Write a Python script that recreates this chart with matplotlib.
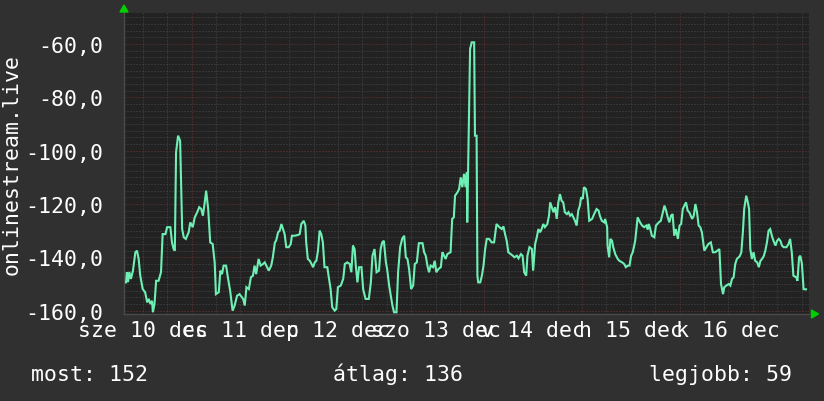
import matplotlib
matplotlib.use('Agg')
import matplotlib.pyplot as plt
from matplotlib.patches import Polygon
import numpy as np

# ---------------- data (hours since 10 dec 00:00, value) ----------------
hours = [7.9, 8.1, 8.4, 8.7, 9.1, 9.6, 10.2, 10.6, 11.0, 11.4, 12.0, 12.6, 13.1, 13.5, 13.9, 14.3, 14.5, 14.9,
         15.3, 15.9, 16.5, 16.9, 17.6, 18.0, 18.8, 19.2, 19.6, 19.9, 20.2, 20.7, 21.2, 21.7, 22.1, 22.6, 23.3,
         23.7, 24.3, 24.8, 25.4, 25.9, 26.4, 26.8, 27.2, 27.6, 28.1, 28.6, 29.2, 29.7, 30.0, 30.7, 31.1, 31.5,
         31.9, 32.5, 33.0, 33.5, 34.1, 34.6, 35.2, 35.8,
         36.1, 36.7, 37.1, 37.5, 38.1, 38.6, 39.1, 39.5, 39.9, 40.5, 41.0, 41.6, 42.0, 42.4, 43.0, 43.6, 44.0,
         44.5, 44.8, 45.3, 45.7, 46.1, 46.5, 46.9, 47.3, 47.9, 48.4, 48.7, 49.4, 50.2, 50.6, 51.0, 51.6, 52.0,
         52.2, 52.6, 53.1, 53.5, 53.9, 54.3, 54.7, 55.1, 55.5, 55.9, 56.3, 56.7, 57.4, 57.7, 58.2, 58.6, 59.2,
         59.6, 60.0, 60.7, 61.3, 61.7, 62.3, 62.9, 63.3, 63.7, 64.1,
         64.4, 64.8, 65.2, 65.8, 66.2, 66.8, 67.6, 68.1, 68.5, 69.0, 69.5, 70.1, 70.5, 70.9, 71.3, 71.8, 72.1,
         72.6, 73.0, 73.4, 73.8, 74.4, 74.8, 75.3, 75.8, 76.3, 76.7, 77.1, 77.5, 78.0, 78.5, 78.9, 79.4, 79.9,
         80.8, 81.2, 81.6, 82.0, 82.4, 82.8, 83.4, 83.8, 84.2, 84.7, 85.3, 85.7, 86.1, 86.5, 86.9, 87.7, 88.1,
         88.5, 88.8, 89.4, 89.8, 90.2, 90.6, 91.0, 91.4, 91.7, 91.8, 92.5, 92.9, 93.5, 93.7, 94.1, 94.3, 94.5,
         95.0, 95.4, 95.8, 96.2, 96.6, 97.2, 97.8, 98.4, 99.0, 99.7, 100.3, 100.7, 101.1, 101.5, 101.9, 102.5,
         103.0, 103.4, 104.0, 104.4, 105.0, 105.4, 105.8, 106.3, 106.6, 107.1, 107.7, 108.0, 108.5, 108.9,
         109.3, 109.7, 110.1, 110.5, 110.9, 111.5, 111.9, 112.2, 112.6, 113.0, 113.4, 113.8, 114.2, 114.6,
         115.0, 115.4, 115.8, 116.3, 116.7, 117.1, 117.5, 117.9, 118.3, 118.7, 119.1, 119.5, 119.8, 120.2,
         120.5, 121.0, 121.4, 121.8, 122.5, 123.0, 123.6, 124.1, 124.4, 124.9, 125.5, 125.7, 126.2, 126.3,
         126.7, 127.0, 127.4, 127.7, 128.2, 128.8, 129.2, 129.9, 130.4, 130.8, 131.3, 131.7, 132.1, 132.5,
         133.1, 133.5, 133.7, 134.3, 134.8, 135.3, 135.8, 136.2, 136.4, 136.7, 137.2, 137.8, 138.2, 138.9,
         139.4, 139.9, 140.3, 140.7, 141.1, 141.5, 141.9, 142.3, 142.7, 143.1, 143.6, 144.0, 144.4, 144.8,
         145.2, 145.6, 146.0, 146.4, 147.1, 147.5, 147.9, 148.3, 148.7, 149.1, 149.5, 150.1, 150.6, 151.1,
         151.7, 152.2, 152.8, 153.3, 153.8, 154.2, 154.7, 155.0, 155.5, 156.1, 156.5, 156.9, 157.3, 157.7,
         158.1, 158.8, 159.2, 159.6, 159.9, 160.4, 160.8, 161.1, 161.4, 161.8, 162.2, 162.6, 163.1, 163.5,
         163.9, 164.3, 164.7, 165.1, 165.5, 165.9, 166.3, 166.7, 167.1, 167.6, 168.0, 168.4, 168.8, 169.2,
         169.6, 170.3, 170.8, 171.2, 171.6, 172.0, 172.7, 173.0, 173.4, 173.7, 174.1, 174.5, 174.9, 175.1]

values = [-149.4, -145.6, -149.3, -145.5, -148.1, -145.0, -138.1, -137.5, -140.6, -146.9, -151.9, -153.1,
          -156.9, -155.6, -157.5, -156.3, -160.6, -157.5, -148.8, -148.8, -145.6, -131.3, -131.3, -128.7,
          -128.7, -134.4, -136.9, -137.5, -100.6, -94.4, -96.3, -129.4, -132.5, -133.1, -130.6, -126.9,
          -128.7, -125.0, -123.1, -121.2, -121.9, -124.4, -120.0, -115.0, -121.9, -134.4, -135.0, -141.9,
          -153.8, -153.1, -145.0, -146.3, -143.1, -143.1, -148.1, -152.5, -160.0, -158.1, -154.4, -153.8,
          -154.4, -155.6, -158.1, -151.2, -151.9, -147.5, -146.9, -143.1, -146.3, -140.6, -143.1, -142.5,
          -141.9, -143.1, -145.0, -143.1, -140.0, -134.4, -133.8, -130.6, -130.0, -127.5, -129.4, -131.3,
          -136.2, -136.2, -135.0, -131.9, -131.9, -131.6, -131.3, -127.5, -126.3, -128.1, -134.4, -140.6,
          -141.3, -142.5, -143.7, -141.9, -141.3, -137.5, -130.0, -131.3, -134.4, -143.7, -143.7, -146.9,
          -151.9, -158.7, -160.0, -159.4, -151.2, -150.6, -148.1, -142.5, -141.9, -142.5, -145.6, -135.6,
          -136.9,
          -143.1, -149.4, -143.7, -143.7, -151.9, -155.6, -155.6, -149.4, -139.4, -136.9, -145.6, -145.0,
          -136.9, -134.4, -133.8, -141.9, -144.4, -150.6, -154.4, -158.1, -160.6, -160.6, -145.6, -136.2,
          -133.1, -131.9, -140.0, -140.6, -144.4, -151.9, -150.6, -142.5, -141.9, -134.7, -134.7, -138.1,
          -139.4, -143.1, -145.6, -143.1, -143.7, -141.3, -145.6, -144.4, -143.7, -138.1, -139.4, -140.6,
          -138.8, -138.1, -125.6, -125.0, -116.9, -115.6, -114.4, -110.0, -113.7, -108.7, -113.7, -108.1,
          -126.9, -61.9, -59.4, -59.4, -94.4, -94.4, -146.9, -149.4, -149.4, -146.9, -143.1, -136.9,
          -133.1, -133.1, -134.4, -134.4, -127.5, -128.7, -129.4, -128.4, -131.3, -133.8, -138.1, -138.8,
          -139.4, -140.0, -139.4, -140.4, -138.8, -139.4, -145.6, -146.9, -139.4, -136.2, -136.9, -145.0,
          -135.0, -132.5, -129.4, -130.6, -129.4, -127.5, -128.7, -127.5, -124.4, -119.4, -121.2, -123.1,
          -121.2, -125.6, -119.4, -116.3, -118.8, -119.4, -123.1, -123.8, -123.1, -124.4, -123.8, -125.0,
          -126.3, -128.1, -122.5, -120.6, -117.5, -118.1, -113.7, -114.4, -118.1, -126.3, -125.6, -123.8,
          -121.9, -122.5, -124.4, -126.3, -126.9, -125.6, -128.7, -135.6, -140.0, -133.1, -133.8, -136.2,
          -138.8, -140.6, -141.3, -141.9, -142.5, -143.7, -143.1, -143.1, -139.4, -138.1, -133.8, -128.1,
          -125.0, -126.9, -128.1, -128.7, -128.1, -129.6, -127.5, -128.7, -131.9, -132.5, -128.1, -126.9,
          -126.3, -123.1, -120.6, -122.5, -125.0, -126.9, -124.4, -123.8, -131.9, -129.4, -133.1, -128.1,
          -127.5, -121.9, -120.6, -119.4, -122.5, -123.1, -125.6, -124.4, -120.0, -123.1, -128.1, -128.7,
          -130.6, -137.5, -136.2, -135.0, -134.4, -138.1, -138.1, -137.5, -136.9, -150.0, -153.8, -151.2,
          -150.6, -150.0, -150.6, -148.1, -147.5, -142.5, -140.6, -139.6, -138.1, -130.0, -121.9, -116.9,
          -119.4, -121.9, -136.9, -140.6, -138.1, -141.3, -141.9, -143.7, -141.3, -140.6, -139.6, -137.5,
          -134.4, -130.0, -129.4, -131.9, -133.8, -135.6, -133.8, -133.1, -133.8, -135.6, -136.2, -136.2,
          -135.0, -133.1, -138.1, -146.9, -147.5, -148.8, -140.0, -139.4, -142.5, -151.9, -152.0, -152.0]

y_ticks = [-160, -140, -120, -100, -80, -60]
label_hours = [12, 36, 60, 84, 108, 132, 156]
day_labels = ['sze 10 dec', 'cs 11 dec', 'p 12 dec', 'szo 13 dec', 'v 14 dec', 'h 15 dec', 'k 16 dec']
y_title = 'onlinestream.live'
stat_names = ['most', 'átlag', 'legjobb']
stat_values = [152, 136, 59]

# ---------------- style ----------------
BG = '#303030'
PLOT_BG = '#222222'
LINE = '#6ef0b4'
MINOR = '#484848'
MAJOR = '#6c3434'
AXIS = '#4a4a4a'
ARROW = '#00d000'
TXT = '#ffffff'
FONT = 'DejaVu Sans Mono'
FS = 15.5

W, H = 824, 402
fig = plt.figure(figsize=(W / 100, H / 100), dpi=100, facecolor=BG)
L, R, T, B = 124, 809.5, 14, 315
ax = fig.add_axes([L / W, 1 - B / H, (R - L) / W, (B - T) / H])
ax.set_facecolor(PLOT_BG)
x0, x1 = 7.4, 175.96
y0, y1 = -161.25, -48.4
ax.set_xlim(x0, x1)
ax.set_ylim(y0, y1)

dot = (0, (1, 2))
for hv in np.arange(-160, -45, 2.5):
    if hv % 20 != 0:
        ax.axhline(hv, color=MINOR, lw=0.72, ls=dot, zorder=1)
for hh in np.arange(12, 177, 6):
    if hh % 24 != 0:
        ax.axvline(hh, color=MINOR, lw=0.72, ls=dot, zorder=1)
for hv in y_ticks:
    ax.axhline(hv, color=MAJOR, lw=0.72, ls=dot, zorder=2)
for hh in np.arange(24, 177, 24):
    ax.axvline(hh, color=MAJOR, lw=0.72, ls=dot, zorder=2)

ax.plot(hours, values, color=LINE, lw=1.5, zorder=5, solid_joinstyle='miter')

for s in ['top', 'right']:
    ax.spines[s].set_visible(False)
for s in ['left', 'bottom']:
    ax.spines[s].set_color(AXIS)
    ax.spines[s].set_linewidth(1.0)

ax.set_yticks(y_ticks)
ax.set_yticklabels([f'{v:.1f}'.replace('.', ',') for v in y_ticks])
ax.set_xticks(label_hours)
ax.set_xticklabels(day_labels)
ax.tick_params(axis='both', length=0, colors=TXT, labelsize=FS)
ax.tick_params(axis='y', pad=15)
ax.tick_params(axis='x', pad=4)
for lab in ax.get_xticklabels() + ax.get_yticklabels():
    lab.set_fontfamily(FONT)
    lab.set_color(TXT)

fig.text(12 / W, 1 - (T + B) / 2 / H, y_title, rotation=90, ha='center', va='center',
         color=TXT, fontsize=FS, fontfamily=FONT)

# arrows
fig.patches.append(Polygon([[(L - 4) / W, 1 - 13 / H], [(L + 4) / W, 1 - 13 / H], [L / W, 1 - 6 / H]],
                           closed=True, transform=fig.transFigure, color=ARROW, zorder=10))
fig.patches.append(Polygon([[(R + 2) / W, 1 - (B - 4) / H], [(R + 2) / W, 1 - (B + 4) / H], [(R + 9) / W, 1 - B / H]],
                           closed=True, transform=fig.transFigure, color=ARROW, zorder=10))

# stats
stat_x = [31, 333, 649]
for name, val, sx in zip(stat_names, stat_values, stat_x):
    fig.text(sx / W, 1 - 381 / H, f'{name}: {val}', ha='left', va='baseline',
             color=TXT, fontsize=FS, fontfamily=FONT)

fig.savefig('out.png', dpi=100, facecolor=BG)
